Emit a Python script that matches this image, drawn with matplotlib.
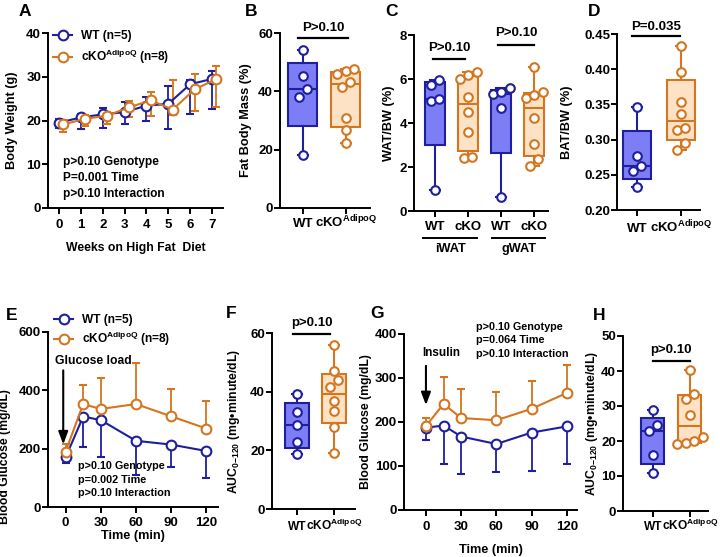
import numpy as np
import matplotlib
matplotlib.use("Agg")
import matplotlib.pyplot as plt
import matplotlib.transforms as mtransforms
from matplotlib.lines import Line2D

# ------------------------------------------------------------------------------
# Data
# ------------------------------------------------------------------------------
# A - body weight during high fat diet (mean, lower / upper error)
weeks = [0, 1, 2, 3, 4, 5, 6, 7]
bw_wt = [19.5, 20.7, 21.4, 21.9, 23.4, 23.8, 28.3, 29.5]
bw_wt_lo = [1.3, 2.6, 3.0, 2.6, 3.6, 5.7, 6.7, 6.8]
bw_wt_hi = [0.9, 0.8, 1.4, 2.3, 2.0, 4.2, 1.0, 1.9]
bw_ko = [19.1, 20.4, 21.1, 23.0, 24.6, 22.5, 27.1, 29.5]
bw_ko_lo = [1.8, 1.7, 2.0, 2.3, 3.5, 1.2, 5.0, 6.3]
bw_ko_hi = [1.0, 0.8, 0.8, 1.4, 1.8, 6.7, 3.6, 3.0]

# B - fat body mass (%)
fat_wt = [18.3, 38.1, 40.8, 45.1, 54.1]
fat_ko = [22.3, 26.9, 30.9, 41.5, 43.2, 46.1, 46.9, 47.7]

# C - WAT / BW (%)
iwat_wt = [0.97, 5.0, 5.08, 5.75, 5.95]
iwat_ko = [2.4, 2.45, 3.6, 4.5, 5.2, 6.0, 6.2, 6.3]
gwat_wt = [0.62, 4.68, 5.3, 5.4, 5.58]
gwat_ko = [2.04, 2.35, 3.04, 4.25, 5.15, 5.27, 5.42, 6.55]

# D - BAT / BW (%)
bat_wt = [0.232, 0.256, 0.263, 0.277, 0.347]
bat_ko = [0.285, 0.295, 0.313, 0.316, 0.336, 0.353, 0.3955, 0.4325]

# E - glucose tolerance test
gtt_time = [0, 15, 30, 60, 90, 120]
gtt_wt = [170, 310, 298, 227, 214, 192]
gtt_wt_sd = [20, 104, 126, 118, 78, 91]
gtt_ko = [190, 353, 336, 353, 311, 269]
gtt_ko_sd = [27, 67, 108, 142, 94, 96]

# F - GTT area under curve
gtt_auc_wt = [18.6, 22.7, 28.5, 33.0, 39.1]
gtt_auc_ko = [19.2, 27.8, 33.3, 36.9, 41.5, 43.9, 46.9, 56.0]

# G - insulin tolerance test
itt_time = [0, 15, 30, 60, 90, 120]
itt_wt = [187, 192, 167, 150, 176, 190]
itt_wt_sd = [28, 87, 85, 64, 87, 85]
itt_ko = [191, 241, 209, 204, 230, 266]
itt_ko_sd = [18, 62, 66, 65, 63, 64]

# H - ITT area under curve
itt_auc_wt = [10.9, 16.1, 22.8, 24.5, 28.8]
itt_auc_ko = [19.1, 19.4, 20.0, 21.2, 27.5, 31.9, 33.4, 40.3]

group_labels = ["WT", "cKO$^{AdipoQ}$"]
legend_labels = ["WT (n=5)", "cKO$^{AdipoQ}$ (n=8)"]
stats_A = "p>0.10 Genotype\nP=0.001 Time\np>0.10 Interaction"
stats_E = "p>0.10 Genotype\np=0.002 Time\np>0.10 Interaction"
stats_G = "p>0.10 Genotype\np=0.064 Time\np>0.10 Interaction"

# ------------------------------------------------------------------------------
# Style
# ------------------------------------------------------------------------------
BLUE = "#1f1f9e"
BLUE_FILL = "#7d7df5"
ORANGE = "#d4761f"
ORANGE_FILL = "#fde2c6"

plt.rcParams["font.family"] = ["Liberation Sans", "DejaVu Sans"]
plt.rcParams["font.weight"] = "bold"
plt.rcParams["font.size"] = 9.5
plt.rcParams["mathtext.fontset"] = "custom"
plt.rcParams["mathtext.rm"] = "Liberation Sans:bold"
plt.rcParams["mathtext.it"] = "Liberation Sans:bold"
plt.rcParams["mathtext.bf"] = "Liberation Sans:bold"
plt.rcParams["mathtext.default"] = "rm"
plt.rcParams["axes.linewidth"] = 1.4

W, H = 720, 557
fig = plt.figure(figsize=(W / 100, H / 100), dpi=100)


def add_axes(l, t, r, b):
    # axes placed by pixel box (left, top, right, bottom)
    ax = fig.add_axes([l / W, 1 - b / H, (r - l) / W, (b - t) / H])
    ax.spines[["top", "right"]].set_visible(False)
    ax.tick_params(direction="out", length=4, width=1.4, labelsize=9.5)
    ax.tick_params(axis="y", pad=1)
    ax.tick_params(axis="x", pad=3)
    return ax


def ylabel_at(ax, text, dx_px, y=0.5, size=9.2):
    ax.set_ylabel(text, fontsize=size, fontweight="bold")
    w = ax.get_position().width * W
    ax.yaxis.set_label_coords(-dx_px / w, y)


def group_ticks(ax, labels, pad, size=9.5):
    # labels sit on a common baseline so the superscript does not push cKO down
    ax.set_xticks(range(len(labels)))
    ax.set_xticklabels(labels, fontsize=size)
    ax.tick_params(axis="x", pad=pad)
    for t in ax.get_xticklabels():
        t.set_verticalalignment("baseline")


def draw_box(ax, vals, pos, color, fill, width, capw):
    q1, med, q3 = np.percentile(vals, [25, 50, 75], method="weibull")
    st = [dict(med=med, q1=q1, q3=q3, whislo=min(vals), whishi=max(vals), fliers=[])]
    ax.bxp(st, positions=[pos], widths=width, capwidths=capw, patch_artist=True,
           showfliers=False, manage_ticks=False,
           boxprops=dict(facecolor=fill, edgecolor=color, linewidth=1.5),
           medianprops=dict(color=color, linewidth=1.5),
           whiskerprops=dict(color=color, linewidth=1.5),
           capprops=dict(color=color, linewidth=1.5))


def swarm(ax, vals, pos, color, d=8.6):
    # points closer than about one marker (in pixels) form a row, spread symmetrically
    vals = np.sort(np.asarray(vals, dtype=float))
    pix = ax.transData.transform(np.column_stack([np.full(len(vals), pos), vals]))
    x0 = pix[0, 0]
    rows = [[0]]
    for i in range(1, len(vals)):
        if abs(pix[i, 1] - pix[rows[-1][0], 1]) < d * 1.05:
            rows[-1].append(i)
        else:
            rows.append([i])
    xs = np.zeros(len(vals))
    for row in rows:
        for j, i in enumerate(row):
            xs[i] = x0 + (j - (len(row) - 1) / 2) * d
    back = ax.transData.inverted().transform(np.column_stack([xs, pix[:, 1]]))
    ax.plot(back[:, 0], vals, "o", ms=6.2, mfc="white", mec=color, mew=1.5,
            ls="none", zorder=5, clip_on=False)


def sig_bar(ax, x1, x2, y, text, dy):
    ax.plot([x1, x2], [y, y], color="black", lw=1.6, clip_on=False)
    ax.text((x1 + x2) / 2, y + dy, text, ha="center", va="bottom", fontsize=9.5)


def panel_letter(x, y, s):
    fig.text(x / W, 1 - y / H, s, fontsize=12.5, fontweight="bold",
             ha="center", va="center")


legend_handles = [
    Line2D([], [], color=BLUE, lw=1.5, marker="o", ms=7, mfc="white", mec=BLUE, mew=1.5),
    Line2D([], [], color=ORANGE, lw=1.5, marker="o", ms=7, mfc="white", mec=ORANGE, mew=1.5),
]
legend_kw = dict(loc="upper left", frameon=False, handlelength=1.6, handletextpad=0.75,
                 borderaxespad=0, borderpad=0, fontsize=8.6)
line_kw = dict(marker="o", ms=7, mfc="white", mew=1.5, lw=1.5,
               capsize=3, elinewidth=1.3, capthick=1.3)

# ------------------------------------------------------------------------------
# A - body weight
# ------------------------------------------------------------------------------
ax = add_axes(48, 33, 223, 208)
ax.errorbar(weeks, bw_wt, yerr=[bw_wt_lo, bw_wt_hi], color=BLUE, mec=BLUE, **line_kw)
ax.errorbar(np.array(weeks) + 0.2, bw_ko, yerr=[bw_ko_lo, bw_ko_hi], color=ORANGE,
            mec=ORANGE, **line_kw)
ax.set_xlim(-0.5, 7.5)
ax.set_ylim(0, 40)
ax.set_xticks(weeks)
ax.set_yticks([0, 10, 20, 30, 40])
ax.tick_params(axis="x", pad=4)
ax.set_xlabel("Weeks on High Fat  Diet", fontsize=8.8, fontweight="bold", labelpad=8)
ylabel_at(ax, "Body Weight (g)", 30)
ax.text(0.086, 0.17, stats_A, transform=ax.transAxes, ha="left", va="center",
        fontsize=8.6, linespacing=1.45)
ax.legend(legend_handles, legend_labels, bbox_to_anchor=(0.03, 1.015),
          labelspacing=0.45, **legend_kw)
panel_letter(25, 12, "A")

# ------------------------------------------------------------------------------
# B - fat body mass
# ------------------------------------------------------------------------------
ax = add_axes(280, 33, 370, 208)
ax.set_xlim(-0.53, 1.56)
ax.set_ylim(0, 60)
draw_box(ax, fat_wt, 0, BLUE, BLUE_FILL, 0.67, 0.23)
draw_box(ax, fat_ko, 1, ORANGE, ORANGE_FILL, 0.67, 0.23)
swarm(ax, fat_wt, 0, BLUE)
swarm(ax, fat_ko, 1, ORANGE)
group_ticks(ax, group_labels, 9.7)
ax.set_yticks([0, 20, 40, 60])
ylabel_at(ax, "Fat Body Mass (%)", 28)
sig_bar(ax, -0.12, 1.05, 58.3, "P>0.10", 1.5)
panel_letter(251, 12, "B")

# ------------------------------------------------------------------------------
# C - WAT / BW
# ------------------------------------------------------------------------------
ax = add_axes(414, 35, 548, 211)
ax.set_xlim(-0.64, 3.42)
ax.set_ylim(0, 8)
for vals, pos, c, f in [(iwat_wt, 0, BLUE, BLUE_FILL), (iwat_ko, 1, ORANGE, ORANGE_FILL),
                        (gwat_wt, 2, BLUE, BLUE_FILL), (gwat_ko, 3, ORANGE, ORANGE_FILL)]:
    draw_box(ax, vals, pos, c, f, 0.6, 0.3)
for vals, pos, c in [(iwat_wt, 0, BLUE), (iwat_ko, 1, ORANGE),
                     (gwat_wt, 2, BLUE), (gwat_ko, 3, ORANGE)]:
    swarm(ax, vals, pos, c)
group_ticks(ax, ["WT", "cKO", "WT", "cKO"], 10)
ax.set_yticks([0, 2, 4, 6, 8])
ylabel_at(ax, "WAT/BW (%)", 19)
sig_bar(ax, -0.06, 0.9, 6.9, "P>0.10", 0.25)
sig_bar(ax, 1.9, 3.0, 7.55, "P>0.10", 0.25)
tr = mtransforms.blended_transform_factory(ax.transData, ax.transAxes)
for x1, x2, name in [(-0.36, 1.27, "iWAT"), (1.73, 3.33, "gWAT")]:
    ax.plot([x1, x2], [-0.153, -0.153], color="black", lw=1.4, transform=tr, clip_on=False)
    ax.text((x1 + x2) / 2, -0.215, name, transform=tr, ha="center", va="center", fontsize=9.2)
panel_letter(392, 12, "C")

# ------------------------------------------------------------------------------
# D - BAT / BW
# ------------------------------------------------------------------------------
ax = add_axes(617, 34, 700, 210)
ax.set_xlim(-0.45, 1.43)
ax.set_ylim(0.20, 0.45)
draw_box(ax, bat_wt, 0, BLUE, BLUE_FILL, 0.64, 0.23)
draw_box(ax, bat_ko, 1, ORANGE, ORANGE_FILL, 0.64, 0.23)
swarm(ax, bat_wt, 0, BLUE)
swarm(ax, bat_ko, 1, ORANGE)
group_ticks(ax, group_labels, 12)
ax.set_yticks([0.20, 0.25, 0.30, 0.35, 0.40, 0.45])
ax.yaxis.set_major_formatter(matplotlib.ticker.FormatStrFormatter("%.2f"))
ylabel_at(ax, "BAT/BW (%)", 44)
sig_bar(ax, -0.1, 0.98, 0.447, "P=0.035", 0.004)
panel_letter(594, 12, "D")

# ------------------------------------------------------------------------------
# E - GTT
# ------------------------------------------------------------------------------
ax = add_axes(48, 332, 218, 507)
zeros = np.zeros(len(gtt_time))
ax.errorbar(gtt_time, gtt_wt, yerr=[gtt_wt_sd, zeros], color=BLUE, mec=BLUE, **line_kw)
ax.errorbar(gtt_time, gtt_ko, yerr=[zeros, gtt_ko_sd], color=ORANGE, mec=ORANGE, **line_kw)
ax.set_xlim(-15, 130)
ax.set_ylim(0, 600)
ax.set_xticks([0, 30, 60, 90, 120])
ax.set_yticks([0, 200, 400, 600])
ax.set_xlabel("Time (min)", fontsize=9.2, fontweight="bold", labelpad=1)
ylabel_at(ax, "Blood Glucose (mg/dL)", 37, y=0.29, size=8.8)
ax.annotate("", xy=(-2, 205), xytext=(-2, 478),
            arrowprops=dict(arrowstyle="-|>,head_width=0.3,head_length=0.8", lw=1.5, color="black"))
ax.text(-9, 500, "Glucose load", ha="left", va="center", fontsize=8.7)
ax.text(0.176, 0.155, stats_E, transform=ax.transAxes, ha="left", va="center",
        fontsize=7.8, linespacing=1.45)
ax.legend(legend_handles, legend_labels, bbox_to_anchor=(0.035, 1.1),
          labelspacing=0.3, **legend_kw)
panel_letter(12, 315, "E")

# ------------------------------------------------------------------------------
# F - GTT AUC
# ------------------------------------------------------------------------------
ax = add_axes(272, 333, 355, 509)
ax.set_xlim(-0.68, 1.57)
ax.set_ylim(0, 60)
draw_box(ax, gtt_auc_wt, 0, BLUE, BLUE_FILL, 0.65, 0.27)
draw_box(ax, gtt_auc_ko, 1, ORANGE, ORANGE_FILL, 0.65, 0.27)
swarm(ax, gtt_auc_wt, 0, BLUE)
swarm(ax, gtt_auc_ko, 1, ORANGE)
group_ticks(ax, group_labels, 11, size=8.6)
ax.set_yticks([0, 20, 40, 60])
ylabel_at(ax, "AUC$_{0\\mathrm{-}120}$ (mg\u2022minute/dL)", 30, size=8.8)
sig_bar(ax, -0.1, 0.9, 59.7, "p>0.10", 1.5)
panel_letter(231, 313, "F")

# ------------------------------------------------------------------------------
# G - ITT
# ------------------------------------------------------------------------------
ax = add_axes(404, 334, 577, 510)
ax.errorbar(itt_time, itt_wt, yerr=[itt_wt_sd, zeros], color=BLUE, mec=BLUE, **line_kw)
ax.errorbar(itt_time, itt_ko, yerr=[zeros, itt_ko_sd], color=ORANGE, mec=ORANGE, **line_kw)
ax.set_xlim(-18.7, 128.7)
ax.set_ylim(0, 400)
ax.set_xticks([0, 30, 60, 90, 120])
ax.set_yticks([0, 100, 200, 300, 400])
ax.tick_params(axis="x", pad=4)
ax.set_xlabel("Time (min)", fontsize=9.2, fontweight="bold", labelpad=8)
ylabel_at(ax, "Blood Glucose (mg/dL)", 32, size=8.8)
ax.annotate("", xy=(0, 232), xytext=(0, 334),
            arrowprops=dict(arrowstyle="-|>,head_width=0.3,head_length=0.8", lw=1.5, color="black"))
ax.text(-3.5, 357, "Insulin", ha="left", va="center", fontsize=8.5)
ax.text(0.416, 0.965, stats_G, transform=ax.transAxes, ha="left", va="center",
        fontsize=7.8, linespacing=1.45)
panel_letter(377, 313, "G")

# ------------------------------------------------------------------------------
# H - ITT AUC
# ------------------------------------------------------------------------------
ax = add_axes(623, 336, 708, 511)
ax.set_xlim(-0.81, 1.49)
ax.set_ylim(0, 50)
draw_box(ax, itt_auc_wt, 0, BLUE, BLUE_FILL, 0.62, 0.27)
draw_box(ax, itt_auc_ko, 1, ORANGE, ORANGE_FILL, 0.62, 0.27)
swarm(ax, itt_auc_wt, 0, BLUE)
swarm(ax, itt_auc_ko, 1, ORANGE)
group_ticks(ax, group_labels, 10, size=8.6)
ax.set_yticks([0, 10, 20, 30, 40, 50])
ylabel_at(ax, "AUC$_{0\\mathrm{-}120}$ (mg\u2022minute/dL)", 23, size=8.8)
sig_bar(ax, 0, 1, 43, "p>0.10", 1.3)
panel_letter(599, 315, "H")

fig.savefig("out.png", dpi=100)
